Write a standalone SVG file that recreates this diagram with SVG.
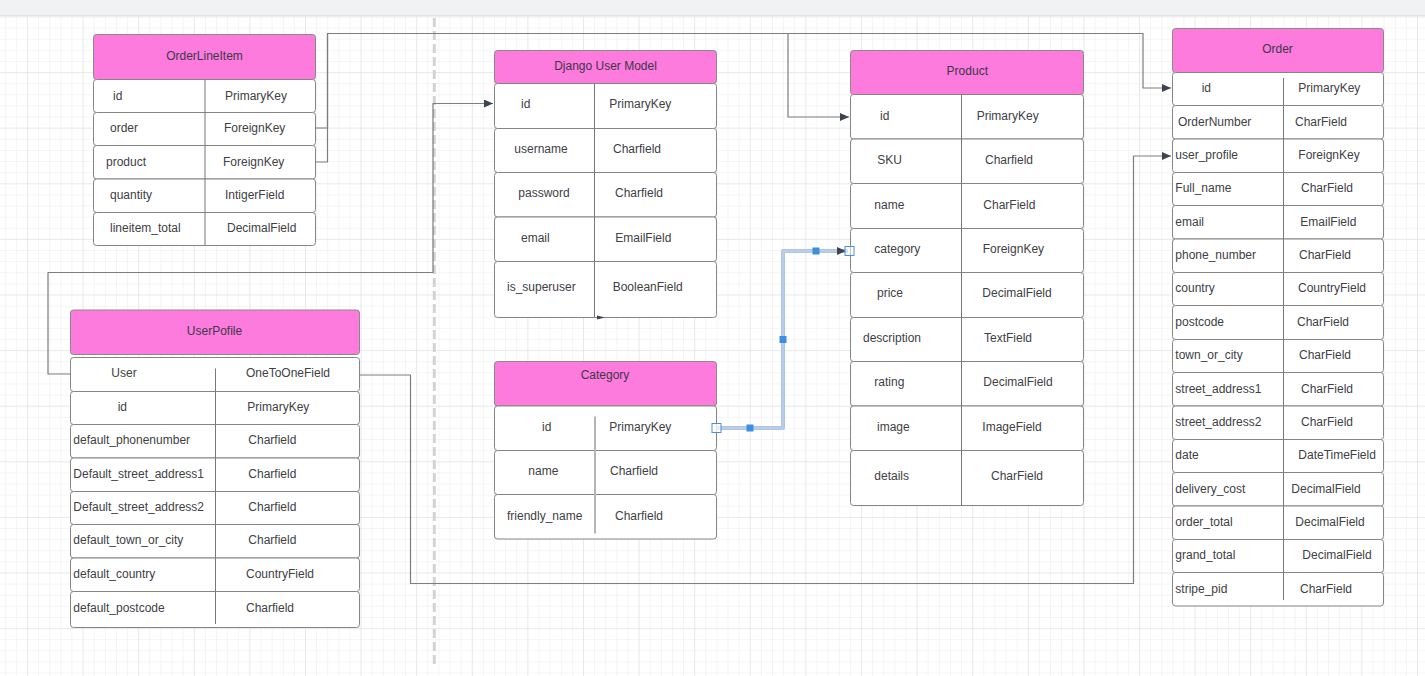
<svg xmlns="http://www.w3.org/2000/svg" width="1425" height="676" viewBox="0 0 1425 676">
<defs>
<pattern id="minor" width="11.12" height="11.12" x="27" y="16.5" patternUnits="userSpaceOnUse">
<path d="M0,0 V11.12 M0,0 H11.12" stroke="#ebebeb" stroke-width="1" fill="none"/>
</pattern>
<pattern id="major" width="55.6" height="55.6" x="27" y="16.5" patternUnits="userSpaceOnUse">
<path d="M0,0 V55.6 M0,0 H55.6" stroke="#dddddd" stroke-width="1" fill="none"/>
</pattern>
<marker id="arr" viewBox="0 0 9 8" refX="9" refY="4" markerWidth="9" markerHeight="8" markerUnits="userSpaceOnUse" orient="auto">
<path d="M0,0 L9,4 L0,8 z" fill="#3d4450"/>
</marker>
<linearGradient id="shadow" x1="0" y1="0" x2="0" y2="1">
<stop offset="0" stop-color="#d8d9dc"/>
<stop offset="1" stop-color="#ffffff" stop-opacity="0"/>
</linearGradient>
</defs>
<style>
.hd{fill:#fc7bdd;stroke:#8a8a8a;stroke-width:1}
.row{fill:#ffffff;stroke:#858585;stroke-width:1}
.div{stroke:#777777;stroke-width:1}
text{font-family:"Liberation Sans",Arial,sans-serif;font-size:12px;fill:#404045}
.ht{text-anchor:middle;fill:#40364a}
.con{fill:none;stroke:#7d7d7d;stroke-width:1.2;stroke-linejoin:round}
</style>
<rect x="0" y="0" width="1425" height="676" fill="#ffffff"/>
<rect x="0" y="16" width="1425" height="660" fill="url(#minor)"/>
<rect x="0" y="16" width="1425" height="660" fill="url(#major)"/>
<rect x="0" y="0" width="1425" height="15" fill="#f1f2f4"/>
<rect x="0" y="15" width="1425" height="3" fill="url(#shadow)"/>
<line x1="434.3" y1="18" x2="434.3" y2="668" stroke="#d3d3d3" stroke-width="3" stroke-dasharray="9 4"/>

<g id="OrderLineItem">
<rect class="hd" x="93.5" y="34.5" width="222" height="45" rx="3"/>
<text class="ht" x="204.5" y="60">OrderLineItem</text>
<rect class="row" x="93.5" y="79.5" width="222" height="33" rx="3"/>
<rect class="row" x="93.5" y="112.5" width="222" height="33" rx="3"/>
<rect class="row" x="93.5" y="145.5" width="222" height="33.5" rx="3"/>
<rect class="row" x="93.5" y="179" width="222" height="33.5" rx="3"/>
<rect class="row" x="93.5" y="212.5" width="222" height="33" rx="3"/>
<line class="div" x1="205" y1="79.5" x2="205" y2="245.5"/>
<text x="113" y="100">id</text><text x="225" y="100">PrimaryKey</text>
<text x="110" y="132">order</text><text x="224" y="132">ForeignKey</text>
<text x="106" y="166">product</text><text x="223" y="166">ForeignKey</text>
<text x="110" y="199">quantity</text><text x="225" y="199">IntigerField</text>
<text x="110" y="232">lineitem_total</text><text x="227" y="232">DecimalField</text>
</g>

<g id="DjangoUserModel">
<rect class="hd" x="494.5" y="50.5" width="222" height="33" rx="3"/>
<text class="ht" x="605.5" y="70">Django User Model</text>
<rect class="row" x="494.5" y="83.5" width="222" height="45" rx="3"/>
<rect class="row" x="494.5" y="128.5" width="222" height="44" rx="3"/>
<rect class="row" x="494.5" y="172.5" width="222" height="44.5" rx="3"/>
<rect class="row" x="494.5" y="217" width="222" height="44.5" rx="3"/>
<rect class="row" x="494.5" y="261.5" width="222" height="56" rx="3"/>
<line class="div" x1="594.5" y1="83.5" x2="594.5" y2="317.5"/>
<path d="M597,315.5 L605,317.5 L597,319.5 z" fill="#3d4450"/>
<text x="521" y="108">id</text><text x="609.3" y="108">PrimaryKey</text>
<text x="514.3" y="153">username</text><text x="613" y="153">Charfield</text>
<text x="518.3" y="197">password</text><text x="615" y="197">Charfield</text>
<text x="521" y="242">email</text><text x="615.3" y="242">EmailField</text>
<text x="507" y="291">is_superuser</text><text x="612.7" y="291">BooleanField</text>
</g>

<g id="Category">
<rect class="hd" x="494.5" y="361.5" width="222" height="44.5" rx="3"/>
<text class="ht" x="605" y="379">Category</text>
<rect class="row" x="494.5" y="406" width="222" height="44.5" rx="3"/>
<rect class="row" x="494.5" y="450.5" width="222" height="44" rx="3"/>
<rect class="row" x="494.5" y="494.5" width="222" height="44.5" rx="3"/>
<line x1="595" y1="416.5" x2="595" y2="533.5" stroke="#b5b5b5" stroke-width="2"/>
<text x="542" y="431">id</text><text x="609.3" y="431">PrimaryKey</text>
<text x="528.3" y="475">name</text><text x="610" y="475">Charfield</text>
<text x="507" y="520">friendly_name</text><text x="615" y="520">Charfield</text>
</g>

<g id="Product">
<rect class="hd" x="850.5" y="50.5" width="233" height="44" rx="3"/>
<text class="ht" x="967.3" y="75">Product</text>
<rect class="row" x="850.5" y="94.5" width="233" height="44.5" rx="3"/>
<rect class="row" x="850.5" y="139" width="233" height="44.5" rx="3"/>
<rect class="row" x="850.5" y="183.5" width="233" height="45" rx="3"/>
<rect class="row" x="850.5" y="228.5" width="233" height="44" rx="3"/>
<rect class="row" x="850.5" y="272.5" width="233" height="45" rx="3"/>
<rect class="row" x="850.5" y="317.5" width="233" height="44" rx="3"/>
<rect class="row" x="850.5" y="361.5" width="233" height="44.5" rx="3"/>
<rect class="row" x="850.5" y="406" width="233" height="44.5" rx="3"/>
<rect class="row" x="850.5" y="450.5" width="233" height="55" rx="3"/>
<line class="div" x1="961.5" y1="94.5" x2="961.5" y2="505.5"/>
<text x="880" y="120">id</text><text x="976.7" y="120">PrimaryKey</text>
<text x="877.3" y="164">SKU</text><text x="985" y="164">Charfield</text>
<text x="874.3" y="209">name</text><text x="983.3" y="209">CharField</text>
<text x="874.3" y="253">category</text><text x="982.7" y="253">ForeignKey</text>
<text x="877" y="297">price</text><text x="982.3" y="297">DecimalField</text>
<text x="863" y="342">description</text><text x="984" y="342">TextField</text>
<text x="874.3" y="386">rating</text><text x="983.3" y="386">DecimalField</text>
<text x="877" y="431">image</text><text x="982.3" y="431">ImageField</text>
<text x="874.3" y="480">details</text><text x="991" y="480">CharField</text>
</g>

<g id="Order">
<rect class="hd" x="1172.5" y="28.5" width="211" height="44" rx="3"/>
<text class="ht" x="1277.5" y="53">Order</text>
<rect class="row" x="1172.5" y="72.5" width="211" height="33" rx="3"/>
<rect class="row" x="1172.5" y="105.5" width="211" height="33.5" rx="3"/>
<rect class="row" x="1172.5" y="139" width="211" height="33.5" rx="3"/>
<rect class="row" x="1172.5" y="172.5" width="211" height="33" rx="3"/>
<rect class="row" x="1172.5" y="205.5" width="211" height="33.5" rx="3"/>
<rect class="row" x="1172.5" y="239" width="211" height="33.5" rx="3"/>
<rect class="row" x="1172.5" y="272.5" width="211" height="33" rx="3"/>
<rect class="row" x="1172.5" y="305.5" width="211" height="34" rx="3"/>
<rect class="row" x="1172.5" y="339.5" width="211" height="33" rx="3"/>
<rect class="row" x="1172.5" y="372.5" width="211" height="33.5" rx="3"/>
<rect class="row" x="1172.5" y="406" width="211" height="33.5" rx="3"/>
<rect class="row" x="1172.5" y="439.5" width="211" height="33" rx="3"/>
<rect class="row" x="1172.5" y="472.5" width="211" height="33.5" rx="3"/>
<rect class="row" x="1172.5" y="506" width="211" height="33.5" rx="3"/>
<rect class="row" x="1172.5" y="539.5" width="211" height="33" rx="3"/>
<rect class="row" x="1172.5" y="572.5" width="211" height="33.5" rx="3"/>
<line class="div" x1="1283.5" y1="78" x2="1283.5" y2="600"/>
<text x="1201.7" y="92">id</text><text x="1298.3" y="92">PrimaryKey</text>
<text x="1178" y="126">OrderNumber</text><text x="1295" y="126">CharField</text>
<text x="1175.3" y="159">user_profile</text><text x="1298.3" y="159">ForeignKey</text>
<text x="1175.3" y="192">Full_name</text><text x="1301" y="192">CharField</text>
<text x="1175.3" y="226">email</text><text x="1300.3" y="226">EmailField</text>
<text x="1175.3" y="259">phone_number</text><text x="1299" y="259">CharField</text>
<text x="1175.3" y="292">country</text><text x="1298" y="292">CountryField</text>
<text x="1175.3" y="326">postcode</text><text x="1297" y="326">CharField</text>
<text x="1175.3" y="359">town_or_city</text><text x="1299" y="359">CharField</text>
<text x="1175.3" y="393">street_address1</text><text x="1301" y="393">CharField</text>
<text x="1175.3" y="426">street_address2</text><text x="1301" y="426">CharField</text>
<text x="1175.3" y="459">date</text><text x="1298.3" y="459">DateTimeField</text>
<text x="1175.3" y="493">delivery_cost</text><text x="1291.3" y="493">DecimalField</text>
<text x="1175.3" y="526">order_total</text><text x="1295.3" y="526">DecimalField</text>
<text x="1175.3" y="559">grand_total</text><text x="1302.3" y="559">DecimalField</text>
<text x="1175.3" y="593">stripe_pid</text><text x="1300" y="593">CharField</text>
</g>

<g id="UserPofile">
<rect class="hd" x="70.5" y="310" width="289" height="44.5" rx="3"/>
<text class="ht" x="214.5" y="335">UserPofile</text>
<rect class="row" x="70.5" y="357.5" width="289" height="34" rx="3"/>
<rect class="row" x="70.5" y="391.5" width="289" height="33" rx="3"/>
<rect class="row" x="70.5" y="424.5" width="289" height="33.5" rx="3"/>
<rect class="row" x="70.5" y="458" width="289" height="33.5" rx="3"/>
<rect class="row" x="70.5" y="491.5" width="289" height="33" rx="3"/>
<rect class="row" x="70.5" y="524.5" width="289" height="33.5" rx="3"/>
<rect class="row" x="70.5" y="558" width="289" height="33.5" rx="3"/>
<rect class="row" x="70.5" y="591.5" width="289" height="36" rx="3"/>
<line class="div" x1="215.5" y1="368.5" x2="215.5" y2="624"/>
<text x="111.3" y="377">User</text><text x="246" y="377">OneToOneField</text>
<text x="117.7" y="411">id</text><text x="247.3" y="411">PrimaryKey</text>
<text x="73.3" y="444">default_phonenumber</text><text x="248.3" y="444">Charfield</text>
<text x="73.3" y="478">Default_street_address1</text><text x="248.3" y="478">Charfield</text>
<text x="73.3" y="511">Default_street_address2</text><text x="248.3" y="511">Charfield</text>
<text x="73.3" y="544">default_town_or_city</text><text x="248.3" y="544">Charfield</text>
<text x="73.3" y="578">default_country</text><text x="246" y="578">CountryField</text>
<text x="73.3" y="612">default_postcode</text><text x="246" y="612">Charfield</text>
</g>

<g id="connectors">
<path class="con" d="M315.5,128 H327.5 V33.5 H1143 V88 H1171" marker-end="url(#arr)"/>
<path class="con" d="M315.5,162 H327.5 V33.5 H788 V117 H849" marker-end="url(#arr)"/>
<path class="con" d="M70.5,374 H48 V272.5 H433 V103.5 H493" marker-end="url(#arr)"/>
<path class="con" d="M359.5,375 H410.5 V583.5 H1133.5 V156 H1171" marker-end="url(#arr)"/>
<g id="selected-connector">
<path d="M716.5,428 H783 V251 H848" fill="none" stroke="#a9c5f0" stroke-width="4" stroke-linejoin="round"/>
<path d="M716.5,428 H783 V251 H846" fill="none" stroke="#c6d0de" stroke-width="1.3" stroke-linejoin="round" marker-end="url(#arr)"/>
<rect x="746.5" y="424.5" width="7" height="7" fill="#3b8fe0"/>
<rect x="779.5" y="336" width="7" height="7" fill="#3b8fe0"/>
<rect x="812.5" y="247.5" width="7" height="7" fill="#3b8fe0"/>
<rect x="712" y="423.5" width="9" height="9" fill="#ffffff" fill-opacity="0.7" stroke="#4a90e2" stroke-width="1"/>
<rect x="845" y="246.5" width="9" height="9" fill="#ffffff" fill-opacity="0.5" stroke="#4a90e2" stroke-width="1"/>
</g>
</g>
</svg>
